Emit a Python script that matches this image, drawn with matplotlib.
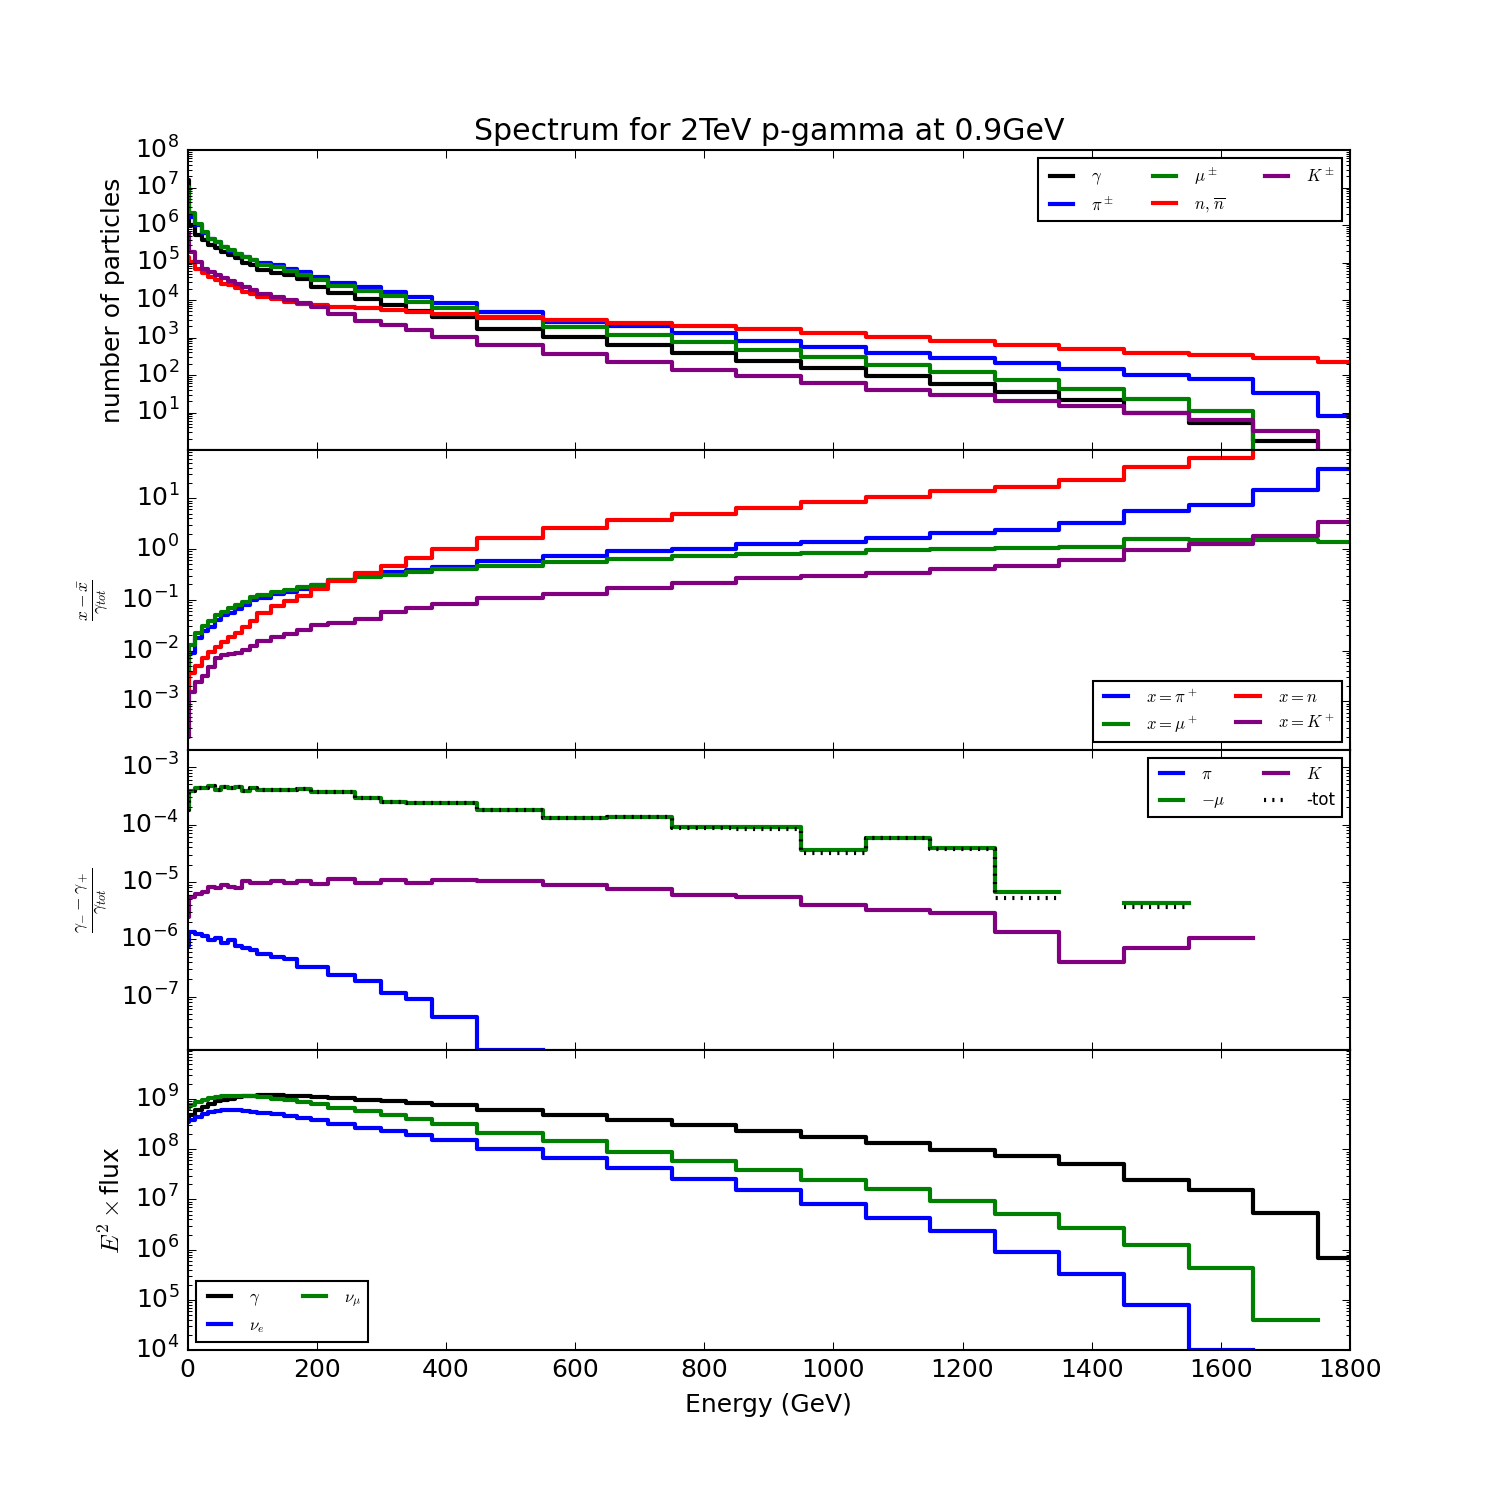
import numpy as np
import matplotlib
matplotlib.use("Agg")
import matplotlib.pyplot as plt

plt.style.use('classic')

# bin edges (GeV)
edges = [0, 2, 12, 22, 32, 42, 52, 62, 73, 84, 96, 108, 129, 149, 170, 191, 218,
         259, 299, 339, 378, 448, 550, 650, 750, 850, 950, 1050, 1150, 1250,
         1350, 1450, 1550, 1650, 1750, 1850]

nan = np.nan
inf = np.inf

# panel 1: number of particles, log10 values per bin
n_gamma = [7.2, 6.0, 5.73, 5.6, 5.47, 5.38, 5.29, 5.2, 5.11, 4.98, 4.93, 4.8, 4.71,
           4.67, 4.55, 4.36, 4.18, 4.02, 3.87, 3.72, 3.56, 3.24, 3.01, 2.80, 2.59,
           2.37, 2.19, 1.97, 1.76, 1.55, 1.33, 0.99, 0.72, 0.24, -inf]
n_pi = [6.25, 6.22, 6.0, 5.8, 5.62, 5.54, 5.41, 5.32, 5.23, 5.15, 5.08, 4.98, 4.93,
        4.84, 4.76, 4.62, 4.46, 4.34, 4.22, 4.09, 3.93, 3.69, 3.41, 3.31, 3.12,
        2.91, 2.75, 2.59, 2.45, 2.32, 2.16, 2.0, 1.89, 1.52, 0.91]
n_mu = [7.02, 6.31, 6.04, 5.82, 5.64, 5.56, 5.42, 5.33, 5.24, 5.16, 5.07, 4.93, 4.89,
        4.78, 4.67, 4.53, 4.37, 4.24, 4.11, 3.96, 3.78, 3.51, 3.28, 3.07, 2.88,
        2.67, 2.48, 2.27, 2.08, 1.87, 1.63, 1.36, 1.04, -inf, -inf]
n_n = [5.16, 5.02, 4.84, 4.71, 4.62, 4.53, 4.44, 4.4, 4.31, 4.22, 4.16, 4.09, 4.02,
       3.96, 3.89, 3.86, 3.82, 3.78, 3.73, 3.69, 3.64, 3.56, 3.47, 3.39, 3.31,
       3.23, 3.12, 3.01, 2.91, 2.80, 2.69, 2.59, 2.53, 2.45, 2.35]
n_K = [5.8, 5.29, 5.02, 4.84, 4.76, 4.67, 4.58, 4.52, 4.44, 4.36, 4.27, 4.16, 4.09,
       4.0, 3.91, 3.82, 3.64, 3.45, 3.33, 3.2, 3.02, 2.8, 2.56, 2.35, 2.13, 1.97,
       1.79, 1.6, 1.47, 1.31, 1.17, 0.99, 0.8, 0.51, -inf]

# panel 2: (x - xbar)/gamma_tot, log10
r_pi = [-2.5, -2.04, -1.76, -1.61, -1.53, -1.40, -1.30, -1.26, -1.19, -1.10, -1.0,
        -0.96, -0.89, -0.84, -0.79, -0.71, -0.61, -0.49, -0.45, -0.41, -0.35, -0.23,
        -0.14, -0.04, 0.0, 0.10, 0.14, 0.22, 0.32, 0.37, 0.51, 0.75, 0.87, 1.16, 1.58]
r_mu = [-2.7, -1.89, -1.65, -1.52, -1.41, -1.31, -1.24, -1.16, -1.10, -1.04, -0.95,
        -0.91, -0.84, -0.80, -0.74, -0.70, -0.61, -0.55, -0.51, -0.46, -0.40, -0.33,
        -0.26, -0.20, -0.14, -0.10, -0.08, -0.02, 0.0, 0.02, 0.04, 0.20, 0.18, 0.18, 0.14]
r_n = [-2.78, -2.45, -2.3, -2.15, -2.03, -1.93, -1.83, -1.74, -1.65, -1.53, -1.42,
       -1.27, -1.13, -1.02, -0.92, -0.79, -0.63, -0.47, -0.33, -0.18, 0.0, 0.22,
       0.41, 0.57, 0.69, 0.81, 0.93, 1.02, 1.14, 1.22, 1.36, 1.62, 1.79, 2.5, 2.5]
r_K = [-3.7, -2.81, -2.63, -2.50, -2.32, -2.15, -2.09, -2.06, -2.04, -1.99, -1.91,
       -1.81, -1.73, -1.68, -1.60, -1.50, -1.45, -1.37, -1.25, -1.17, -1.09, -0.96,
       -0.89, -0.77, -0.67, -0.57, -0.53, -0.47, -0.39, -0.33, -0.22, -0.02, 0.10,
       0.26, 0.53]

# panel 3: (gamma_- - gamma_+)/gamma_tot, log10
ylim3 = (-7.93, -2.7)
a_pi = [-6.11, -5.87, -5.90, -5.95, -6.02, -5.97, -6.06, -6.02, -6.11, -6.15, -6.19,
        -6.26, -6.31, -6.35, -6.49, -6.49, -6.63, -6.72, -6.94, -7.04, -7.35, -7.93,
        nan, nan, nan, nan, nan, nan, nan, nan, nan, nan, nan, nan, nan]
a_mu = [-3.74, -3.42, -3.37, -3.36, -3.32, -3.40, -3.34, -3.37, -3.35, -3.42, -3.37,
        -3.40, -3.40, -3.39, -3.38, -3.43, -3.43, -3.53, -3.61, -3.62, -3.63, -3.74,
        -3.88, -3.86, -4.04, -4.05, -4.44, -4.23, -4.40, -5.18, nan, -5.37, nan, nan, nan]
a_tot = [-3.74, -3.42, -3.37, -3.36, -3.32, -3.40, -3.34, -3.37, -3.35, -3.42, -3.37,
         -3.40, -3.40, -3.39, -3.38, -3.43, -3.43, -3.53, -3.61, -3.62, -3.63, -3.74,
         -3.89, -3.87, -4.06, -4.07, -4.49, -4.24, -4.42, -5.28, nan, -5.44, nan, nan, nan]
a_K = [-5.61, -5.26, -5.21, -5.17, -5.08, -5.11, -5.05, -5.08, -5.11, -4.98, -5.02,
       -5.01, -4.99, -5.01, -4.98, -5.04, -4.95, -5.01, -4.97, -5.01, -4.96, -4.99,
       -5.05, -5.12, -5.23, -5.26, -5.40, -5.49, -5.54, -5.88, -6.40, -6.16, -5.98,
       nan, nan]

# panel 4: E^2 x flux, log10
f_gamma = [8.65, 8.68, 8.78, 8.85, 8.91, 8.96, 8.99, 9.01, 9.05, 9.06, 9.07, 9.08, 9.08,
           9.07, 9.07, 9.05, 9.03, 8.99, 8.96, 8.93, 8.88, 8.78, 8.68, 8.58, 8.48,
           8.36, 8.24, 8.12, 7.98, 7.86, 7.70, 7.38, 7.18, 6.74, 5.84]
f_nue = [8.55, 8.58, 8.65, 8.71, 8.75, 8.77, 8.78, 8.78, 8.78, 8.77, 8.75, 8.73, 8.70,
         8.67, 8.63, 8.58, 8.50, 8.43, 8.36, 8.28, 8.18, 8.0, 7.82, 7.62, 7.40, 7.18,
         6.92, 6.64, 6.38, 5.96, 5.52, 4.90, 4.0, nan, nan]
f_numu = [8.81, 8.88, 8.95, 8.99, 9.03, 9.05, 9.06, 9.07, 9.07, 9.07, 9.06, 9.05, 9.00,
          8.98, 8.95, 8.91, 8.83, 8.76, 8.69, 8.61, 8.50, 8.33, 8.16, 7.94, 7.76,
          7.58, 7.38, 7.20, 6.98, 6.72, 6.44, 6.10, 5.64, 4.60, nan]


def hist(ax, logvals, **kw):
    v = 10.0 ** np.array(logvals, dtype=float)
    v = np.append(v, v[-1])
    return ax.plot(edges, v, drawstyle='steps-post', lw=2, **kw)


fig, axs = plt.subplots(4, 1, sharex=True, figsize=(10, 10))
fig.subplots_adjust(hspace=0)
ax1, ax2, ax3, ax4 = axs
leg_font = {'size': 8}

hist(ax1, n_gamma, color='k', label=r'$\gamma$')
hist(ax1, n_pi, color='b', label=r'$\pi^\pm$')
hist(ax1, n_mu, color='g', label=r'$\mu^\pm$')
hist(ax1, n_n, color='r', label=r'$n,\,\overline{n}$')
hist(ax1, n_K, color='purple', label=r'$K^\pm$')
ax1.set_yscale('log')
ax1.set_ylim(1, 1e8)
ax1.set_yticks([1e1, 1e2, 1e3, 1e4, 1e5, 1e6, 1e7, 1e8])
ax1.set_ylabel('number of particles')
ax1.set_title('Spectrum for 2TeV p-gamma at 0.9GeV')
ax1.legend(loc='upper right', ncol=3, prop=leg_font)

hist(ax2, r_pi, color='b', label=r'$x=\pi^+$')
hist(ax2, r_mu, color='g', label=r'$x=\mu^+$')
hist(ax2, r_n, color='r', label=r'$x=n$')
hist(ax2, r_K, color='purple', label=r'$x=K^+$')
ax2.set_yscale('log')
ax2.set_ylim(10 ** -3.96, 10 ** 1.95)
ax2.set_ylabel(r'$\frac{x-\bar{x}}{\gamma_{tot}}$')
ax2.legend(loc='lower right', ncol=2, prop=leg_font)

hist(ax3, a_pi, color='b', label=r'$\pi$')
hist(ax3, a_mu, color='g', label=r'$-\mu$')
hist(ax3, a_K, color='purple', label=r'$K$')
hist(ax3, a_tot, color='k', ls=':', label='-tot')
ax3.set_yscale('log')
ax3.set_ylim(10 ** ylim3[0], 10 ** ylim3[1])
ax3.set_ylabel(r'$\frac{\gamma_{-}-\gamma_+}{\gamma_{tot}}$')
ax3.legend(loc='upper right', ncol=2, prop=leg_font)

hist(ax4, f_gamma, color='k', label=r'$\gamma$')
hist(ax4, f_nue, color='b', label=r'$\nu_e$')
hist(ax4, f_numu, color='g', label=r'$\nu_\mu$')
ax4.set_yscale('log')
ax4.set_ylim(1e4, 10 ** 9.98)
ax4.set_ylabel(r'$E^2\times$flux')
ax4.legend(loc='lower left', ncol=2, prop=leg_font)

ax4.set_xlim(0, 1800)
ax4.set_xticks(range(0, 1801, 200))
ax4.set_xlabel('Energy (GeV)')

fig.savefig('out.png', dpi=150, facecolor='white')
